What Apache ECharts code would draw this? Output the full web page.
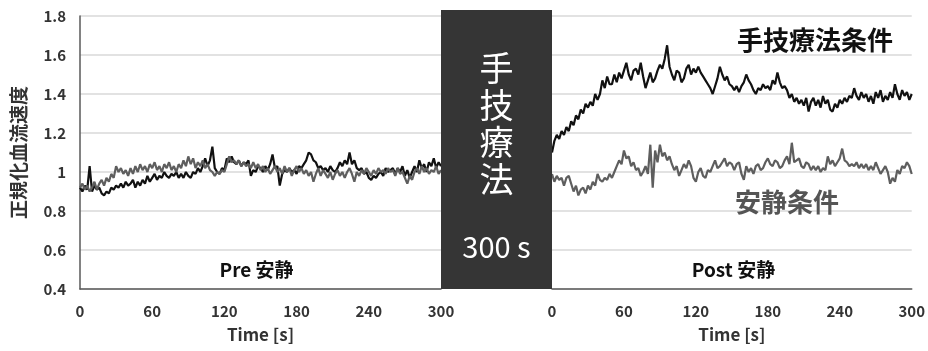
<!DOCTYPE html>
<html><head><meta charset="utf-8">
<script src="https://cdn.jsdelivr.net/npm/echarts@6/dist/echarts.min.js"></script>
<style>html,body{margin:0;padding:0;background:#fff}#c{width:928px;height:351px}</style>
</head><body><div id="c"></div>
<script>
// sampling step of the traces (seconds)
const timeStepSec = 2;
const xTickValues = [0, 60, 120, 180, 240, 300];
const yTickValues = [0.4, 0.6, 0.8, 1.0, 1.2, 1.4, 1.6, 1.8];

// Pre rest – manual-therapy condition (black)
const preManual = [
 0.92,0.90,0.93,0.91,1.03,0.90,0.93,0.91,0.92,0.89,
 0.88,0.90,0.89,0.92,0.91,0.93,0.92,0.94,0.92,0.95,
 0.93,0.94,0.96,0.92,0.95,0.93,0.96,0.94,0.98,0.95,
 0.97,0.99,0.96,0.98,0.97,1.00,0.98,0.97,0.99,0.98,
 1.00,0.97,0.99,0.97,1.00,0.98,0.97,1.00,0.99,1.02,
 1.00,1.03,1.07,1.03,1.06,1.13,1.02,1.00,0.99,1.02,
 1.01,1.07,1.05,1.08,1.05,1.04,1.06,1.03,1.05,1.04,
 1.06,0.98,1.01,1.00,1.03,1.02,1.00,1.03,1.01,1.04,
 1.09,1.02,1.03,0.93,0.99,1.01,1.00,1.02,1.00,1.01,
 0.99,1.03,1.02,1.04,1.06,1.10,1.09,1.06,1.05,1.02,
 1.03,1.01,1.02,1.00,1.03,1.01,1.00,1.02,1.05,1.03,
 1.06,1.04,1.10,1.04,1.06,1.02,1.01,1.02,0.99,1.00,
 0.97,0.96,0.98,0.97,0.99,1.00,0.98,1.02,1.00,1.01,
 1.02,0.99,1.02,1.00,1.03,0.98,1.01,0.97,1.00,1.03,
 1.00,1.06,1.02,1.04,1.00,1.05,1.03,1.07,1.02,1.05,
 1.03];
// Pre rest – rest condition (gray)
const preRest = [
 0.92,0.94,0.91,0.93,0.90,0.92,0.95,0.91,0.94,0.96,
 0.93,0.97,0.95,0.99,0.97,1.03,1.00,1.02,0.99,1.01,
 0.98,1.02,0.99,1.03,1.00,1.04,1.01,1.03,1.00,1.04,
 1.02,1.05,1.01,1.03,1.00,1.04,1.02,1.05,1.01,1.03,
 1.00,1.04,1.02,1.06,1.03,1.08,1.04,1.07,1.02,1.05,
 1.03,1.06,1.02,1.04,1.01,1.00,0.98,1.00,0.99,1.01,
 1.00,1.04,1.08,1.05,1.06,1.04,1.06,1.03,1.05,1.03,
 1.04,1.02,1.05,1.02,1.04,1.01,1.03,1.00,1.02,0.99,
 1.01,1.03,1.00,1.02,0.99,1.03,1.00,1.02,0.98,1.01,
 1.03,1.00,1.02,0.99,1.01,0.98,1.00,0.95,0.99,1.02,
 0.98,1.01,0.99,0.97,1.00,0.96,0.99,1.01,0.98,1.00,
 0.97,1.00,1.02,0.99,0.95,1.00,0.98,1.01,0.99,1.02,
 1.00,0.98,1.01,0.99,1.02,1.00,1.01,0.99,1.02,1.00,
 1.01,0.98,1.02,0.99,1.00,0.97,0.94,0.98,0.96,1.00,
 1.02,0.99,1.03,1.00,1.02,0.99,1.01,1.00,1.03,0.99,
 1.01];
// Post rest – manual-therapy condition (black)
const postManual = [
 1.10,1.16,1.19,1.17,1.21,1.19,1.23,1.21,1.26,1.24,
 1.29,1.27,1.32,1.30,1.35,1.33,1.36,1.34,1.40,1.37,
 1.40,1.47,1.43,1.49,1.45,1.45,1.50,1.46,1.51,1.48,
 1.52,1.56,1.50,1.47,1.52,1.53,1.50,1.56,1.49,1.43,
 1.47,1.51,1.46,1.48,1.52,1.55,1.53,1.58,1.65,1.54,
 1.50,1.47,1.52,1.51,1.46,1.48,1.53,1.55,1.50,1.53,
 1.51,1.54,1.51,1.49,1.47,1.45,1.43,1.40,1.44,1.48,
 1.54,1.50,1.47,1.49,1.45,1.44,1.42,1.44,1.41,1.44,
 1.46,1.50,1.47,1.45,1.42,1.40,1.43,1.42,1.45,1.43,
 1.44,1.42,1.47,1.45,1.51,1.46,1.43,1.44,1.42,1.38,
 1.40,1.36,1.38,1.35,1.37,1.34,1.38,1.31,1.36,1.38,
 1.34,1.37,1.33,1.39,1.35,1.37,1.32,1.31,1.35,1.33,
 1.37,1.35,1.38,1.36,1.39,1.38,1.43,1.39,1.37,1.41,
 1.38,1.40,1.36,1.39,1.35,1.41,1.38,1.42,1.36,1.39,
 1.37,1.41,1.38,1.45,1.40,1.37,1.42,1.39,1.41,1.37,
 1.40];
// Post rest – rest condition (gray)
const postRest = [
 0.99,0.95,0.98,0.96,0.97,0.93,0.97,0.98,0.94,0.90,
 0.93,0.88,0.91,0.92,0.89,0.93,0.91,0.95,0.93,0.99,
 0.96,0.95,0.97,0.96,0.99,0.97,1.00,1.03,1.06,1.04,
 1.11,1.07,1.08,1.03,1.05,1.01,1.02,0.98,1.00,1.03,
 0.99,1.14,0.92,1.11,1.05,1.14,1.08,1.10,1.06,1.08,
 1.04,1.01,1.03,0.98,1.01,1.04,1.02,1.06,1.03,0.97,
 0.95,1.00,1.02,0.98,0.97,1.01,1.00,1.03,1.06,1.02,
 1.03,1.05,1.07,1.03,1.05,1.04,1.01,1.04,1.05,0.99,
 0.96,1.03,1.00,1.02,0.99,1.03,1.04,1.01,1.02,1.05,
 1.07,1.04,1.03,1.06,1.05,1.02,1.03,1.06,1.08,1.04,
 1.15,1.05,1.06,1.07,1.03,1.02,1.05,1.04,1.01,1.03,
 1.01,1.03,1.00,1.02,1.01,1.08,1.04,1.06,1.03,1.05,
 1.07,1.12,1.06,1.05,1.03,1.04,1.03,1.05,1.02,1.04,
 1.02,1.04,1.01,1.03,1.01,1.05,1.02,0.99,1.01,1.03,
 1.00,0.94,0.97,0.95,1.01,0.99,1.03,1.02,1.05,1.03,
 0.99];

const yAxisTitle = '正規化血流速度';
const xAxisTitle = 'Time [s]';
const preLabel = 'Pre 安静';
const postLabel = 'Post 安静';
const boxTitle = '手\n技\n療\n法';
const boxDuration = '300 s';
const manualLabel = '手技療法条件';
const restLabel = '安静条件';

const pairs = arr => arr.map((v, i) => [i * timeStepSec, v]);

const FONT = '"Noto Sans CJK JP", "Noto Sans", sans-serif';
const G0 = {left: 80, top: 16, width: 361, height: 273};
const G1 = {left: 552, top: 16, width: 363, height: 273};
const BLACK = '#111111', GRAY = '#5e5e5e';

function xAxis(gi) {
  return {
    type: 'value', gridIndex: gi, min: 0, max: 300, interval: 60,
    axisLine: {show: true, lineStyle: {color: '#595959', width: 1.5}},
    axisTick: {show: false}, splitLine: {show: false},
    axisLabel: {color: '#333', fontSize: 15, fontWeight: 'bold', fontFamily: FONT, margin: 15},
    name: xAxisTitle, nameLocation: 'middle', nameGap: 37,
    nameTextStyle: {color: '#333', fontSize: 17, fontWeight: 'bold', fontFamily: FONT}
  };
}
function yAxis(gi, left) {
  return {
    type: 'value', gridIndex: gi, min: 0.4, max: 1.8, interval: 0.2,
    axisLine: {show: left, lineStyle: {color: '#595959', width: 1.5}},
    axisTick: {show: false},
    splitLine: {show: true, lineStyle: {color: '#d9d9d9', width: 1.5}},
    axisLabel: {show: left, color: '#333', fontSize: 15, fontWeight: 'bold', fontFamily: FONT, margin: 14,
      formatter: v => String(Math.round(v * 10) / 10)},
    name: left ? yAxisTitle : '', nameLocation: 'middle', nameGap: 52, nameRotate: 90,
    nameTextStyle: {color: '#333', fontSize: 19, fontWeight: 'bold', fontFamily: FONT}
  };
}
function line(xi, data, color) {
  return {type: 'line', xAxisIndex: xi, yAxisIndex: xi, data: pairs(data), showSymbol: false,
    lineStyle: {color, width: 2.2}, itemStyle: {color}, z: 3};
}

const boxX = G0.left + G0.width, boxW = G1.left - boxX;
const boxTop = 10, boxBottom = G0.top + G0.height;

const chart = echarts.init(document.getElementById('c'), null, {renderer: 'canvas'});
chart.setOption({
  animation: false,
  backgroundColor: '#fff',
  grid: [G0, G1],
  xAxis: [xAxis(0), xAxis(1)],
  yAxis: [yAxis(0, true), yAxis(1, false)],
  series: [
    line(0, preManual, BLACK), line(0, preRest, GRAY),
    line(1, postManual, BLACK), line(1, postRest, GRAY)
  ],
  graphic: [
    {type: 'rect', z: 10, shape: {x: boxX, y: boxTop, width: boxW, height: boxBottom - boxTop},
      style: {fill: '#353535'}},
    {type: 'text', z: 11, x: boxX + boxW / 2, y: 50,
      style: {text: boxTitle, fill: '#fff', font: '34px ' + FONT, lineHeight: 37, align: 'center', verticalAlign: 'top'}},
    {type: 'text', z: 11, x: boxX + boxW / 2, y: 247,
      style: {text: boxDuration, fill: '#fff', font: '29px ' + FONT, align: 'center', verticalAlign: 'middle'}},
    {type: 'text', z: 11, x: G0.left + G0.width / 2 - 4, y: 270,
      style: {text: preLabel, fill: '#111', font: 'bold 19px ' + FONT, align: 'center', verticalAlign: 'middle'}},
    {type: 'text', z: 11, x: G1.left + G1.width / 2, y: 270,
      style: {text: postLabel, fill: '#111', font: 'bold 19px ' + FONT, align: 'center', verticalAlign: 'middle'}},
    {type: 'text', z: 11, x: 815, y: 40,
      style: {text: manualLabel, fill: '#111', font: 'bold 26px ' + FONT, align: 'center', verticalAlign: 'middle'}},
    {type: 'text', z: 11, x: 787, y: 202,
      style: {text: restLabel, fill: '#555', font: 'bold 26px ' + FONT, align: 'center', verticalAlign: 'middle'}}
  ]
});
</script></body></html>
